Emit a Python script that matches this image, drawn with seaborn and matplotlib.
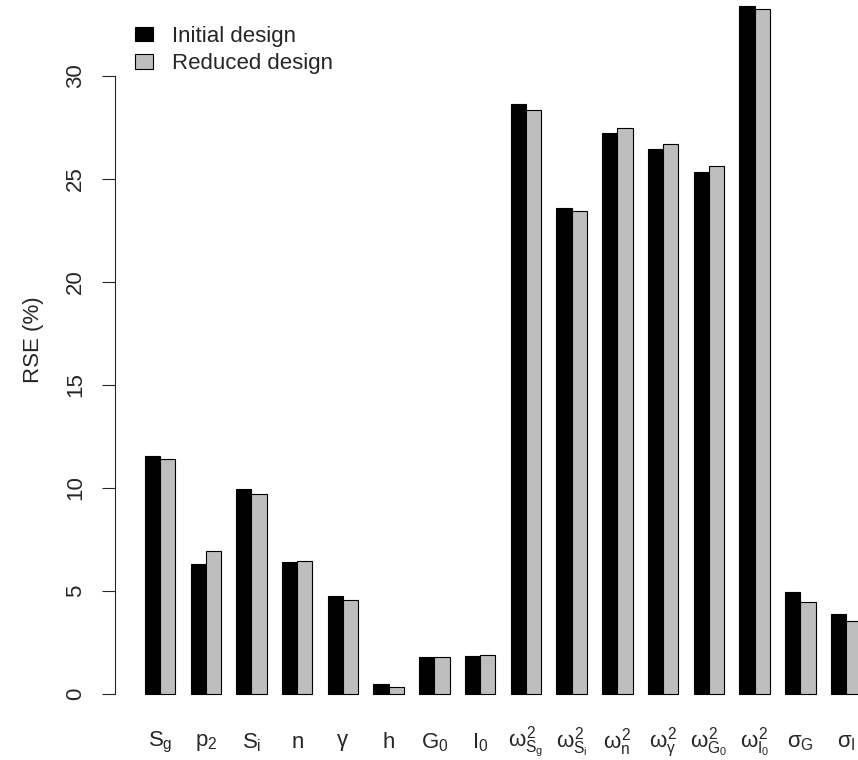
"""
RSE (%) of each parameter for the initial and the reduced design.
Grouped bar chart, drawn with seaborn.
"""

import pandas as pd
import seaborn as sns
import matplotlib.pyplot as plt

# Data
params = ['Sg', 'p2', 'Si', 'n', 'gamma', 'h', 'G0', 'I0',
          'w2_Sg', 'w2_Si', 'w2_n', 'w2_gamma', 'w2_G0', 'w2_I0',
          'sigma_G', 'sigma_I']
tick_labels = [r'$S_g$', r'$p_2$', r'$S_i$', r'$n$', r'$\gamma$', r'$h$',
               r'$G_0$', r'$I_0$',
               r'$\omega^2_{S_g}$', r'$\omega^2_{S_i}$', r'$\omega^2_n$',
               r'$\omega^2_\gamma$', r'$\omega^2_{G_0}$', r'$\omega^2_{I_0}$',
               r'$\sigma_G$', r'$\sigma_I$']
initial = [11.57, 6.33, 9.97, 6.43, 4.78, 0.49, 1.81, 1.86,
           28.62, 23.59, 27.24, 26.46, 25.34, 33.40, 4.97, 3.87]
reduced = [11.42, 6.95, 9.69, 6.47, 4.55, 0.34, 1.81, 1.87,
           28.36, 23.47, 27.47, 26.70, 25.65, 33.24, 4.47, 3.56]
designs = ['Initial design', 'Reduced design']

df = pd.DataFrame({
    'param': params * 2,
    'rse': initial + reduced,
    'design': [designs[0]] * len(params) + [designs[1]] * len(params),
})

sns.set_style('white')
plt.rcParams['font.family'] = ['Liberation Sans', 'DejaVu Sans']
plt.rcParams['mathtext.fontset'] = 'custom'
plt.rcParams['mathtext.rm'] = 'Liberation Sans'
plt.rcParams['mathtext.it'] = 'Liberation Sans'
plt.rcParams['mathtext.sf'] = 'Liberation Sans'

FS = 16
W, H = 858, 760
fig = plt.figure(figsize=(W / 100, H / 100), dpi=100)
# axes placed in pixels so that the frame is cut off at the top/right like the original
ax = fig.add_axes([115 / W, 38.4 / H, (W - 115) / W, (H - 38.4) / H])

sns.barplot(data=df, x='param', y='rse', hue='design', order=params,
            hue_order=designs, palette=['black', '#BEBEBE'],
            edgecolor='black', linewidth=0.8, width=2 / 3, gap=0,
            saturation=1, ax=ax)

ax.set_xlim(-0.984, 15.26)
ax.set_ylim(-1.34, 33.69)

# y axis like R: only a line from 0 to 30
for side in ['top', 'right', 'bottom']:
    ax.spines[side].set_visible(False)
ax.spines['left'].set_bounds(0, 30)
ax.spines['left'].set_linewidth(0.8)
ax.set_yticks([0, 5, 10, 15, 20, 25, 30])
ax.tick_params(axis='y', length=9.4, width=0.8, pad=11.5, labelsize=FS,
               left=True)
for lab in ax.get_yticklabels():
    lab.set_rotation(90)
    lab.set_va('center')

ax.set_xticks(range(len(params)))
ax.set_xticklabels(tick_labels, fontsize=FS)
ax.tick_params(axis='x', length=0, pad=15)
for lab in ax.get_xticklabels():
    lab.set_va('center')

ax.set_xlabel('')
ax.set_ylabel('')
fig.text(34 / W, (H - 340) / H, 'RSE (%)', rotation=90, fontsize=FS,
         ha='center', va='center')

sns.move_legend(ax, 'upper left', bbox_to_anchor=(135 / W, (H - 26) / H),
                bbox_transform=fig.transFigure, frameon=False, title=None,
                fontsize=FS, borderpad=0, borderaxespad=0,
                handlelength=0.81, handleheight=0.63, handletextpad=0.86,
                labelspacing=0.28)
for h in ax.get_legend().legend_handles:
    h.set_edgecolor('black')
    h.set_linewidth(0.8)

fig.savefig('out.png', dpi=100)
